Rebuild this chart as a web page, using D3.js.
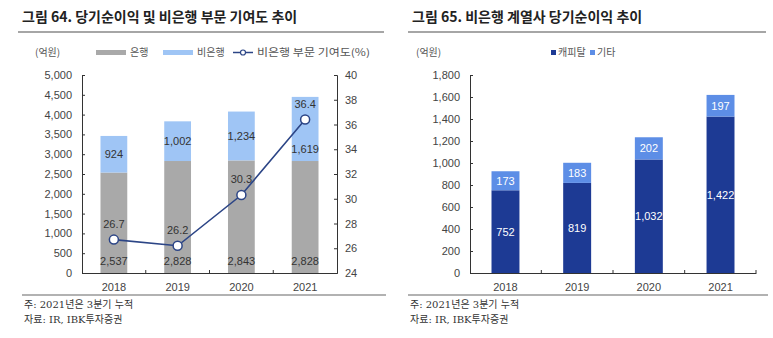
<!DOCTYPE html>
<html>
<head>
<meta charset="utf-8">
<script src="https://cdn.jsdelivr.net/npm/d3@7"></script>
<style>
  body { margin: 0; background: #fff; }
  text { font-family: "Liberation Sans", "Noto Sans CJK KR", sans-serif; }
  .kr { font-family: "Noto Sans CJK KR", sans-serif; }
  .note { font-family: "DejaVu Serif", "Noto Sans CJK KR", serif; font-size: 10px; fill: #333; }
</style>
</head>
<body>
<div id="chart"></div>
<script>
// 그림 64 data
var years = ["2018", "2019", "2020", "2021"];
var bank = [2537, 2828, 2843, 2828];
var nonBank = [924, 1002, 1234, 1619];
var share = [26.7, 26.2, 30.3, 36.4];
var leftTicks = [0, 500, 1000, 1500, 2000, 2500, 3000, 3500, 4000, 4500, 5000];
var rightTicks = [24, 26, 28, 30, 32, 34, 36, 38, 40];

// 그림 65 data
var capital = [752, 819, 1032, 1422];
var others = [173, 183, 202, 197];
var ticks65 = [0, 200, 400, 600, 800, 1000, 1200, 1400, 1600, 1800];

var fmt = d3.format(",");

var svg = d3.select("#chart").append("svg")
    .attr("width", 773)
    .attr("height", 338);

function header(x0, x1, title) {
  svg.append("text")
      .attr("class", "kr")
      .attr("x", x0 + 4).attr("y", 22)
      .style("font-size", "14px").style("font-weight", "bold").style("fill", "#222")
      .text(title);
  svg.append("line")
      .attr("x1", x0).attr("x2", x1).attr("y1", 32).attr("y2", 32)
      .style("stroke", "#888").style("stroke-width", 1.5);
}

function footer(x0, x1) {
  svg.append("line")
      .attr("x1", x0).attr("x2", x1).attr("y1", 295).attr("y2", 295)
      .style("stroke", "#999").style("stroke-width", 1.5);
  svg.append("text").attr("class", "note").attr("x", x0 + 2).attr("y", 308).text("주: 2021년은 3분기 누적");
  svg.append("text").attr("class", "note").attr("x", x0 + 2).attr("y", 323).text("자료: IR, IBK투자증권");
}

function styleAxis(g) {
  g.select(".domain").style("stroke", "#333");
  g.selectAll(".tick line").style("stroke", "#333");
  g.selectAll(".tick text").style("font-size", "11px").style("fill", "#444");
}

// small ticks between categories on the bottom axis
function sepTicks(g, x) {
  g.selectAll(".sep")
      .data(years.slice(1))
    .enter().append("line")
      .attr("class", "sep")
      .attr("x1", function(d) { return x(d) - x.step() * x.paddingInner() / 2; })
      .attr("x2", function(d) { return x(d) - x.step() * x.paddingInner() / 2; })
      .attr("y1", 0).attr("y2", -3)
      .style("stroke", "#333");
}

// ---------- 그림 64 ----------
header(18, 384, "그림 64. 당기순이익 및 비은행 부문 기여도 추이");

var x1 = d3.scaleBand().domain(years).range([82, 337]).paddingInner(0.58).paddingOuter(0.29);
var y1 = d3.scaleLinear().domain([0, 5000]).range([273, 75]);
var y1r = d3.scaleLinear().domain([24, 40]).range([273, 75]);

svg.append("g")
    .attr("transform", "translate(82,0)")
    .call(d3.axisLeft(y1).tickValues(leftTicks).tickFormat(fmt).tickSizeInner(-3).tickSizeOuter(-3).tickPadding(10))
    .call(styleAxis);
svg.append("g")
    .attr("transform", "translate(337,0)")
    .call(d3.axisRight(y1r).tickValues(rightTicks).tickSizeInner(-3).tickSizeOuter(-3).tickPadding(8))
    .call(styleAxis);
var xg1 = svg.append("g")
    .attr("transform", "translate(0,273)")
    .call(d3.axisBottom(x1).tickSize(0).tickPadding(10));
xg1.call(styleAxis);
sepTicks(xg1, x1);

svg.append("g").selectAll("rect")
    .data(years)
  .enter().append("rect")
    .attr("x", function(d) { return x1(d); })
    .attr("width", x1.bandwidth())
    .attr("y", function(d, i) { return y1(bank[i]); })
    .attr("height", function(d, i) { return y1(0) - y1(bank[i]); })
    .style("fill", "#a9a9a9");

svg.append("g").selectAll("rect")
    .data(years)
  .enter().append("rect")
    .attr("x", function(d) { return x1(d); })
    .attr("width", x1.bandwidth())
    .attr("y", function(d, i) { return y1(bank[i] + nonBank[i]); })
    .attr("height", function(d, i) { return y1(bank[i]) - y1(bank[i] + nonBank[i]); })
    .style("fill", "#9fc5f5");

// labels
svg.append("g").selectAll("text")
    .data(years)
  .enter().append("text")
    .attr("x", function(d) { return x1(d) + x1.bandwidth() / 2; })
    .attr("y", y1(0) - 8)
    .attr("text-anchor", "middle")
    .style("font-size", "11px").style("fill", "#333")
    .text(function(d, i) { return fmt(bank[i]); });

svg.append("g").selectAll("text")
    .data(years)
  .enter().append("text")
    .attr("x", function(d) { return x1(d) + x1.bandwidth() / 2; })
    .attr("y", function(d, i) {
      var mid = y1(bank[i] + nonBank[i] / 2);
      // last label pushed down so it clears the line marker
      return (i == 3 ? mid + 20 : mid) + 4;
    })
    .attr("text-anchor", "middle")
    .style("font-size", "11px").style("fill", "#333")
    .text(function(d, i) { return fmt(nonBank[i]); });

var line = d3.line()
    .x(function(d, i) { return x1(years[i]) + x1.bandwidth() / 2; })
    .y(function(d) { return y1r(d); });

svg.append("path")
    .datum(share)
    .attr("d", line)
    .style("fill", "none").style("stroke", "#2c4586").style("stroke-width", 1.6);

svg.append("g").selectAll("circle")
    .data(share)
  .enter().append("circle")
    .attr("cx", function(d, i) { return x1(years[i]) + x1.bandwidth() / 2; })
    .attr("cy", function(d) { return y1r(d); })
    .attr("r", 4.5)
    .style("fill", "#fff").style("stroke", "#2c4586").style("stroke-width", 1.5);

svg.append("g").selectAll("text")
    .data(share)
  .enter().append("text")
    .attr("x", function(d, i) { return x1(years[i]) + x1.bandwidth() / 2; })
    .attr("y", function(d) { return y1r(d) - 12; })
    .attr("text-anchor", "middle")
    .style("font-size", "11px").style("fill", "#333")
    .text(function(d) { return d.toFixed(1); });

// legend 64
svg.append("text").attr("class", "kr").attr("x", 35).attr("y", 56)
    .style("font-size", "10px").style("fill", "#555").text("(억원)");
svg.append("rect").attr("x", 96).attr("y", 50).attr("width", 30).attr("height", 5).style("fill", "#a9a9a9");
svg.append("text").attr("class", "kr").attr("x", 130).attr("y", 56)
    .style("font-size", "10px").style("fill", "#555").text("은행");
svg.append("rect").attr("x", 163).attr("y", 50).attr("width", 30).attr("height", 5).style("fill", "#9fc5f5");
svg.append("text").attr("class", "kr").attr("x", 197).attr("y", 56)
    .style("font-size", "10px").style("fill", "#555").text("비은행");
svg.append("line").attr("x1", 233).attr("x2", 253).attr("y1", 52.5).attr("y2", 52.5)
    .style("stroke", "#2c4586").style("stroke-width", 1.5);
svg.append("circle").attr("cx", 243).attr("cy", 52.5).attr("r", 2.5)
    .style("fill", "#fff").style("stroke", "#2c4586").style("stroke-width", 1.2);
svg.append("text").attr("class", "kr").attr("x", 257).attr("y", 56)
    .attr("textLength", 113).attr("lengthAdjust", "spacingAndGlyphs")
    .style("font-size", "10px").style("fill", "#555").text("비은행 부문 기여도(%)");

footer(22, 386);

// ---------- 그림 65 ----------
header(408, 766, "그림 65. 비은행 계열사 당기순이익 추이");

var x2 = d3.scaleBand().domain(years).range([470, 756]).paddingInner(0.61).paddingOuter(0.3);
var y2 = d3.scaleLinear().domain([0, 1800]).range([273, 75]);

svg.append("g")
    .attr("transform", "translate(470,0)")
    .call(d3.axisLeft(y2).tickValues(ticks65).tickFormat(fmt).tickSizeInner(-3).tickSizeOuter(-3).tickPadding(10))
    .call(styleAxis);
var xg2 = svg.append("g")
    .attr("transform", "translate(0,273)")
    .call(d3.axisBottom(x2).tickSize(0).tickPadding(10));
xg2.call(styleAxis);
sepTicks(xg2, x2);
xg2.append("line")
    .attr("x1", 756).attr("x2", 756).attr("y1", 0).attr("y2", -3)
    .style("stroke", "#333");

svg.append("g").selectAll("rect")
    .data(years)
  .enter().append("rect")
    .attr("x", function(d) { return x2(d); })
    .attr("width", x2.bandwidth())
    .attr("y", function(d, i) { return y2(capital[i]); })
    .attr("height", function(d, i) { return y2(0) - y2(capital[i]); })
    .style("fill", "#1d3a94");

svg.append("g").selectAll("rect")
    .data(years)
  .enter().append("rect")
    .attr("x", function(d) { return x2(d); })
    .attr("width", x2.bandwidth())
    .attr("y", function(d, i) { return y2(capital[i] + others[i]); })
    .attr("height", function(d, i) { return y2(capital[i]) - y2(capital[i] + others[i]); })
    .style("fill", "#5d8ee6");

svg.append("g").selectAll("text")
    .data(years)
  .enter().append("text")
    .attr("x", function(d) { return x2(d) + x2.bandwidth() / 2; })
    .attr("y", function(d, i) { return y2(capital[i] / 2) + 4; })
    .attr("text-anchor", "middle")
    .style("font-size", "11px").style("fill", "#fff")
    .text(function(d, i) { return fmt(capital[i]); });

svg.append("g").selectAll("text")
    .data(years)
  .enter().append("text")
    .attr("x", function(d) { return x2(d) + x2.bandwidth() / 2; })
    .attr("y", function(d, i) { return y2(capital[i] + others[i] / 2) + 4; })
    .attr("text-anchor", "middle")
    .style("font-size", "11px").style("fill", "#fff")
    .text(function(d, i) { return fmt(others[i]); });

// legend 65
svg.append("text").attr("class", "kr").attr("x", 416).attr("y", 56)
    .style("font-size", "10px").style("fill", "#555").text("(억원)");
svg.append("rect").attr("x", 551).attr("y", 50).attr("width", 5).attr("height", 5).style("fill", "#1d3a94");
svg.append("text").attr("class", "kr").attr("x", 558).attr("y", 56)
    .style("font-size", "10px").style("fill", "#555").text("캐피탈");
svg.append("rect").attr("x", 590).attr("y", 50).attr("width", 5).attr("height", 5).style("fill", "#5d8ee6");
svg.append("text").attr("class", "kr").attr("x", 597).attr("y", 56)
    .style("font-size", "10px").style("fill", "#555").text("기타");

footer(408, 768);
</script>
</body>
</html>
